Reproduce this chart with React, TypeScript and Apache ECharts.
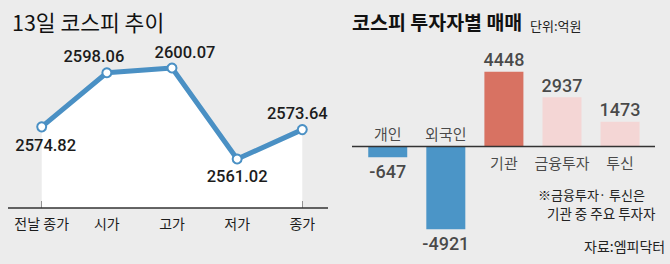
import React, { useEffect, useRef } from 'react';
import * as echarts from 'echarts';

// ---- data ----
const priceCategories = ['전날 종가', '시가', '고가', '저가', '종가'];
const priceValues = [2574.82, 2598.06, 2600.07, 2561.02, 2573.64];

const investorCategories = ['개인', '외국인', '기관', '금융투자', '투신'];
const investorValues = [-647, -4921, 4448, 2937, 1473];

// ---- styles (kept apart from data) ----
const barColors = ['#4b95c7', '#4b95c7', '#d87262', '#f4d6d5', '#f4d6d5'];
const priceLabelPlacement: Array<{ position: string; distance: number; offset: [number, number] }> = [
  { position: 'bottom', distance: 5, offset: [4, 0] },
  { position: 'top', distance: 2, offset: [-13, 0] },
  { position: 'top', distance: 2, offset: [13, 0] },
  { position: 'bottom', distance: 4, offset: [0, 0] },
  { position: 'top', distance: 2, offset: [-5, 0] },
];

const KR = "'Noto Sans CJK KR', sans-serif";
const NUM = "Roboto, 'Noto Sans CJK KR', sans-serif";
const TXT = '#1c1c1c';
const LINE = '#4a90c4';

export default function App() {
  const ref = useRef<HTMLDivElement>(null);

  useEffect(() => {
    document.body.style.margin = '0';
    if (!ref.current) return;
    const chart = echarts.init(ref.current, undefined, { renderer: 'svg' });

    chart.setOption({
      animation: false,
      backgroundColor: '#ececec',
      grid: [
        { left: 41.7, right: 367.7, top: 21.6, bottom: 56 },
        { left: 358.7, right: 20.9, top: 45.7, bottom: 16.7 },
      ],
      xAxis: [
        {
          type: 'category',
          gridIndex: 0,
          data: priceCategories,
          boundaryGap: false,
          axisLine: { show: false },
          axisTick: { show: true, interval: 0, inside: true, length: 7, lineStyle: { color: '#666', width: 1 } },
          axisLabel: { interval: 0, fontFamily: KR, fontSize: 14, color: TXT, margin: 8 },
        },
        {
          type: 'category',
          gridIndex: 1,
          data: investorCategories,
          axisLine: { show: false },
          axisTick: { show: false },
          axisLabel: { show: false },
        },
      ],
      yAxis: [
        { type: 'value', gridIndex: 0, min: 2540, max: 2620, show: false, splitLine: { show: false } },
        { type: 'value', gridIndex: 1, min: -6000, max: 6000, show: false, splitLine: { show: false } },
      ],
      series: [
        {
          type: 'line',
          xAxisIndex: 0,
          yAxisIndex: 0,
          data: priceValues.map((v, i) => ({
            value: v,
            label: {
              position: priceLabelPlacement[i].position,
              distance: priceLabelPlacement[i].distance,
              offset: priceLabelPlacement[i].offset,
            },
          })),
          lineStyle: { color: LINE, width: 5 },
          itemStyle: { color: '#ffffff', borderColor: LINE, borderWidth: 2 },
          symbol: 'circle',
          symbolSize: 9,
          areaStyle: { color: '#ffffff', opacity: 1 },
          z: 3,
          label: {
            show: true,
            fontFamily: NUM,
            fontSize: 16.5,
            fontWeight: 500,
            color: TXT,
            formatter: (p: any) => p.value.toFixed(2),
          },
        },
        {
          type: 'bar',
          xAxisIndex: 1,
          yAxisIndex: 1,
          barWidth: 39,
          data: investorValues.map((v, i) => ({ value: v, itemStyle: { color: barColors[i] } })),
        },
        {
          type: 'scatter',
          xAxisIndex: 1,
          yAxisIndex: 1,
          symbolSize: 0,
          silent: true,
          data: investorValues.map((v) => ({
            value: v,
            label: { position: v < 0 ? 'bottom' : 'top', distance: v < 0 ? 5 : 3 },
          })),
          label: {
            show: true,
            fontFamily: NUM,
            fontSize: 18,
            fontWeight: 500,
            color: TXT,
            formatter: (p: any) => String(p.value),
          },
        },
        {
          type: 'scatter',
          xAxisIndex: 1,
          yAxisIndex: 1,
          symbolSize: 0,
          silent: true,
          data: investorValues.map((v, i) => ({
            value: 0,
            name: investorCategories[i],
            label: { position: v < 0 ? 'top' : 'bottom', distance: v < 0 ? 6 : 8 },
          })),
          label: {
            show: true,
            fontFamily: KR,
            fontSize: 15,
            color: TXT,
            formatter: (p: any) => p.name,
          },
        },
      ],
    });

    const yBase = chart.convertToPixel({ yAxisIndex: 0 } as any, 2540) as number;
    const yZero = chart.convertToPixel({ yAxisIndex: 1 } as any, 0) as number;

    chart.setOption({
      graphic: [
        { type: 'line', id: 'baseL', shape: { x1: 8, y1: yBase, x2: 328, y2: yBase }, style: { stroke: '#333', lineWidth: 1.5 }, z: 10 },
        { type: 'line', id: 'baseR', shape: { x1: 352, y1: yZero, x2: 655, y2: yZero }, style: { stroke: '#333', lineWidth: 1.5 }, z: 10 },
        { type: 'text', id: 't1', left: 12, top: 11, style: { text: '13일 코스피 추이', fontFamily: KR, fontSize: 21.5, fill: '#111' } },
        { type: 'text', id: 't2', left: 352, top: 12, style: { text: '코스피 투자자별 매매', fontFamily: KR, fontSize: 19.5, fontWeight: 'bold', fill: '#111' } },
        { type: 'text', id: 't3', left: 530, top: 19, style: { text: '단위:억원', fontFamily: KR, fontSize: 13, fill: '#222' } },
        { type: 'text', id: 'n1', left: 538, top: 187, style: { text: '※금융투자· 투신은', fontFamily: KR, fontSize: 13, lineHeight: 15, fill: '#222' } },
        { type: 'text', id: 'n2', left: 547, top: 205, style: { text: '기관 중 주요 투자자', fontFamily: KR, fontSize: 13.5, lineHeight: 15, fill: '#222' } },
        { type: 'text', id: 's1', left: 584, top: 239, style: { text: '자료:엠피닥터', fontFamily: KR, fontSize: 14, fill: '#222' } },
      ],
    });

    return () => chart.dispose();
  }, []);

  return <div ref={ref} style={{ width: 670, height: 264 }} />;
}
